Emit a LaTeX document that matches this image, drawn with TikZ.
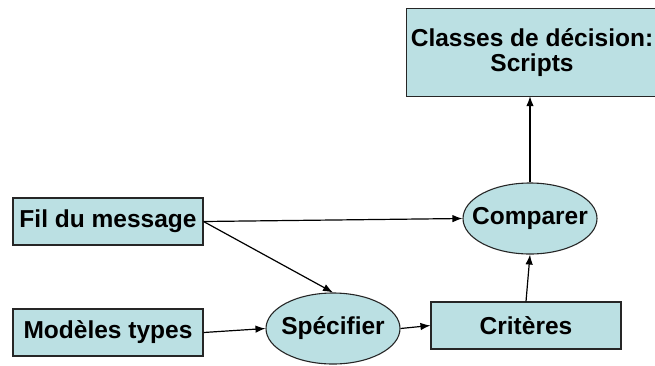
\documentclass[tikz,border=0pt]{standalone}
\usepackage{fontspec}
\setmainfont{Liberation Sans}
\usetikzlibrary{shapes.geometric,arrows.meta}
\definecolor{boxfill}{RGB}{187,224,227}
\tikzset{
  txt/.style={font=\bfseries\fontsize{24.5}{27}\selectfont},
  edge/.style={draw=black!85,line width=1.1pt},
  boxnode/.style={edge,fill=boxfill,rectangle,inner sep=0pt,align=center,txt},
  ellnode/.style={edge,fill=boxfill,ellipse,inner sep=0pt,minimum width=134pt,minimum height=71pt,label={[txt]center:#1}},
  conn/.style={line width=1.2pt,-{Latex[length=10pt,width=7.5pt]}}
}
\begin{document}
\begin{tikzpicture}[x=1pt,y=-1pt]
\useasboundingbox (0,0) rectangle (655,365);
\node[fill=boxfill,rectangle,inner sep=0pt,minimum width=270pt,minimum height=87pt,label={[txt,align=center,xshift=-10pt]center:Classes de décision:\\[-2pt]Scripts}] (classes) at (542,52.5) {};
\draw[edge] (classes.north east) -- (classes.north west) -- (classes.south west) -- (classes.south east);
\node[boxnode,minimum width=190pt,minimum height=47pt] (fil) at (108,221.5) {Fil du message};
\node[boxnode,minimum width=190pt,minimum height=47pt] (mod) at (108,332.5) {Modèles types};
\node[boxnode,minimum width=190pt,minimum height=47pt] (crit) at (526,325.5) {Critères};
\node[ellnode=Spécifier] (spec) at (333,328.5) {};
\node[ellnode=Comparer] (comp) at (530,218.5) {};
\draw[conn] (fil.east) -- (comp.west);
\draw[conn] (fil.east) -- (spec.north);
\draw[conn] (mod.east) -- (spec.west);
\draw[conn] (spec.east) -- (crit.west);
\draw[conn] (crit.north) -- (comp.south);
\draw[conn] (comp.north) -- (classes.south -| comp.north);
\end{tikzpicture}
\end{document}
